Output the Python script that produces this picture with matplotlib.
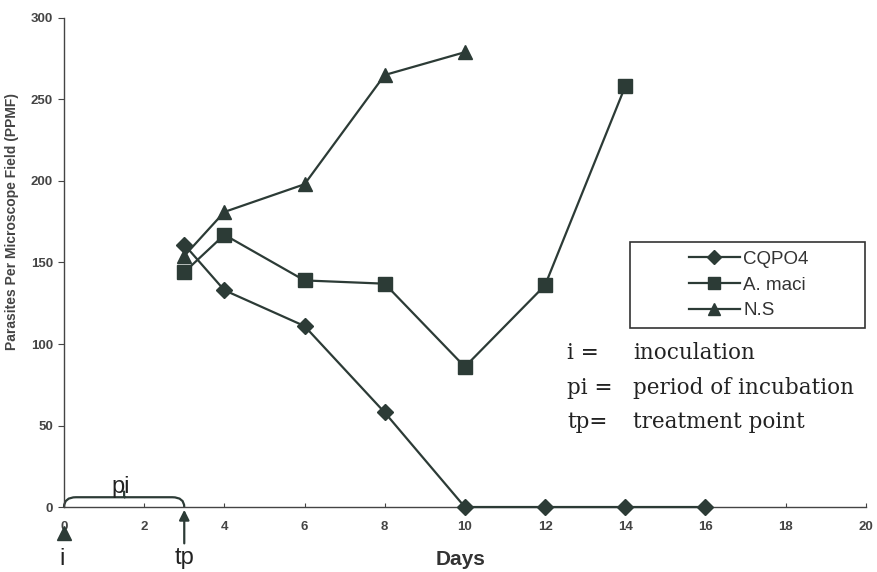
import matplotlib
matplotlib.use("Agg")
import matplotlib.pyplot as plt
from matplotlib.path import Path
from matplotlib.patches import PathPatch, Rectangle

days_cq = [3, 4, 6, 8, 10, 12, 14, 16]
cqpo4 = [161, 133, 111, 58, 0, 0, 0, 0]
days_am = [3, 4, 6, 8, 10, 12, 14]
a_maci = [144, 167, 139, 137, 86, 136, 258]
days_ns = [3, 4, 6, 8, 10]
ns = [154, 181, 198, 265, 279]
series_names = ["CQPO4", "A. maci", "N.S"]
xticks = [0, 2, 4, 6, 8, 10, 12, 14, 16, 18, 20]
yticks = [0, 50, 100, 150, 200, 250, 300]

col = "#2c3b36"
sans = ["Liberation Sans", "DejaVu Sans"]
serif = ["DejaVu Serif"]

fig = plt.figure(figsize=(8.78, 5.72), dpi=100)
ax = fig.add_axes([0.0729, 0.1136, 0.9131, 0.855])

ax.plot(days_cq, cqpo4, color=col, lw=1.6, marker="D", ms=8, label=series_names[0], clip_on=False, zorder=3)
ax.plot(days_am, a_maci, color=col, lw=1.6, marker="s", ms=10, label=series_names[1], clip_on=False, zorder=3)
ax.plot(days_ns, ns, color=col, lw=1.6, marker="^", ms=10, label=series_names[2], clip_on=False, zorder=3)

ax.set_xlim(0, 20)
ax.set_ylim(0, 300)
ax.set_xticks(xticks)
ax.set_yticks(yticks)
for s in ["top", "right"]:
    ax.spines[s].set_visible(False)
for s in ["left", "bottom"]:
    ax.spines[s].set_color("#444444")
    ax.spines[s].set_linewidth(1.0)
ax.tick_params(axis="x", direction="in", length=3, labelsize=9.5, pad=10, colors="#444444", labelcolor="#444444")
ax.tick_params(axis="y", direction="out", length=4, labelsize=9.5, pad=4, colors="#444444", labelcolor="#444444")
for lbl in ax.get_xticklabels() + ax.get_yticklabels():
    lbl.set_fontfamily(sans)
    lbl.set_fontweight("bold")

# legend: frame drawn as a separate box, entries centred in it
fig.patches.append(Rectangle((0.7175, 0.4266), 0.2675, 0.1503, transform=fig.transFigure,
                             fill=False, edgecolor="#333333", lw=1.2, zorder=5))
leg = ax.legend(loc="center", bbox_to_anchor=(0.853, 0.5017), bbox_transform=fig.transFigure,
                frameon=False, prop={"family": sans, "size": 13.5}, handlelength=2.7,
                borderpad=0, labelspacing=0.45, handletextpad=0.2, borderaxespad=0, markerscale=0.85)
for t in leg.get_texts():
    t.set_color("#333333")

fig.text(0.0137, 0.612, "Parasites Per Microscope Field (PPMF)", rotation=90, ha="center", va="center",
         fontsize=10, fontweight="bold", color="#444444", family=sans)
fig.text(0.524, 0.021, "Days", ha="center", va="center", fontsize=15, fontweight="bold", color="#333333", family=sans)

# annotation definitions
notes_lbl = ["i =", "pi =", "tp="]
notes_txt = ["inoculation", "period of incubation", "treatment point"]
ys = [0.383, 0.322, 0.262]
for lb, tx, yy in zip(notes_lbl, notes_txt, ys):
    fig.text(0.646, yy, lb, ha="left", va="center", fontsize=15.5, color="#222222", family=serif)
    fig.text(0.721, yy, tx, ha="left", va="center", fontsize=15.5, color="#222222", family=serif)

# inoculation marker and treatment arrow
ax.plot([0], [-16], marker="^", ms=10, color=col, clip_on=False)
ax.text(-0.05, -32, "i", ha="center", va="center", fontsize=17, color="#222222", family=sans, clip_on=False)
ax.annotate("", xy=(3, 0), xytext=(3, -24), annotation_clip=False,
            arrowprops=dict(arrowstyle="-|>,head_length=0.6,head_width=0.3", color=col, lw=1.6))
ax.text(3, -31, "tp", ha="center", va="center", fontsize=17, color="#222222", family=sans, clip_on=False)

# brace for period of incubation
verts = [(0, 0), (0, 6), (0.3, 6), (1.2, 6), (1.4, 6), (1.5, 6), (1.5, 10),
         (1.5, 6), (1.6, 6), (1.8, 6), (2.7, 6), (3, 6), (3, 0)]
codes = [Path.MOVETO, Path.CURVE3, Path.CURVE3, Path.LINETO, Path.CURVE3, Path.CURVE3, Path.LINETO,
         Path.MOVETO, Path.CURVE3, Path.CURVE3, Path.LINETO, Path.CURVE3, Path.CURVE3]
ax.add_patch(PathPatch(Path(verts, codes), fill=False, edgecolor=col, lw=1.6, clip_on=False))
ax.text(1.42, 12, "pi", ha="center", va="center", fontsize=17, color="#222222", family=sans)

fig.savefig("out.png", dpi=100, facecolor="white")
